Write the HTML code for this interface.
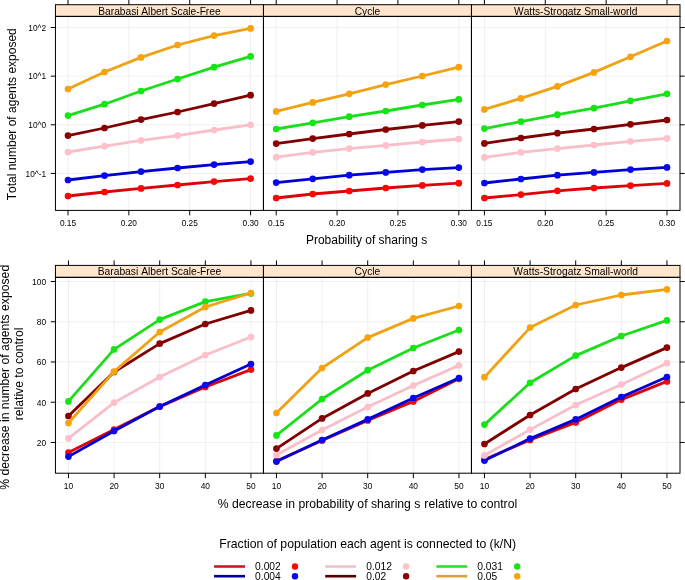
<!DOCTYPE html><html><head><meta charset="utf-8"><style>html,body{margin:0;padding:0;background:#fff;}svg{display:block;will-change:transform;}text{font-family:"Liberation Sans", sans-serif;font-kerning:none;font-feature-settings:"kern" 0;}</style></head><body>
<svg width="685" height="580" viewBox="0 0 685 580">
<rect x="0" y="0" width="685" height="580" fill="#fff"/>
<line x1="68.00" y1="16.40" x2="68.00" y2="210.40" stroke="#efefef" stroke-width="1"/>
<line x1="128.87" y1="16.40" x2="128.87" y2="210.40" stroke="#efefef" stroke-width="1"/>
<line x1="189.73" y1="16.40" x2="189.73" y2="210.40" stroke="#efefef" stroke-width="1"/>
<line x1="250.60" y1="16.40" x2="250.60" y2="210.40" stroke="#efefef" stroke-width="1"/>
<line x1="55.45" y1="27.53" x2="263.45" y2="27.53" stroke="#efefef" stroke-width="1"/>
<line x1="55.45" y1="76.17" x2="263.45" y2="76.17" stroke="#efefef" stroke-width="1"/>
<line x1="55.45" y1="124.81" x2="263.45" y2="124.81" stroke="#efefef" stroke-width="1"/>
<line x1="55.45" y1="173.45" x2="263.45" y2="173.45" stroke="#efefef" stroke-width="1"/>
<polyline points="68.00,196.00 104.52,192.00 141.04,188.40 177.56,185.00 214.08,181.60 250.60,178.60" fill="none" stroke="#dc0408" stroke-width="2.80" stroke-linejoin="round" stroke-linecap="round"/>
<circle cx="68.00" cy="196.00" r="3.35" fill="#fa0808"/>
<circle cx="104.52" cy="192.00" r="3.35" fill="#fa0808"/>
<circle cx="141.04" cy="188.40" r="3.35" fill="#fa0808"/>
<circle cx="177.56" cy="185.00" r="3.35" fill="#fa0808"/>
<circle cx="214.08" cy="181.60" r="3.35" fill="#fa0808"/>
<circle cx="250.60" cy="178.60" r="3.35" fill="#fa0808"/>
<polyline points="68.00,180.00 104.52,175.60 141.04,171.60 177.56,168.00 214.08,164.60 250.60,161.60" fill="none" stroke="#0000d2" stroke-width="2.80" stroke-linejoin="round" stroke-linecap="round"/>
<circle cx="68.00" cy="180.00" r="3.35" fill="#0808f0"/>
<circle cx="104.52" cy="175.60" r="3.35" fill="#0808f0"/>
<circle cx="141.04" cy="171.60" r="3.35" fill="#0808f0"/>
<circle cx="177.56" cy="168.00" r="3.35" fill="#0808f0"/>
<circle cx="214.08" cy="164.60" r="3.35" fill="#0808f0"/>
<circle cx="250.60" cy="161.60" r="3.35" fill="#0808f0"/>
<polyline points="68.00,152.00 104.52,146.20 141.04,140.40 177.56,135.60 214.08,130.00 250.60,124.80" fill="none" stroke="#f8bfc9" stroke-width="2.80" stroke-linejoin="round" stroke-linecap="round"/>
<circle cx="68.00" cy="152.00" r="3.35" fill="#ffc0cb"/>
<circle cx="104.52" cy="146.20" r="3.35" fill="#ffc0cb"/>
<circle cx="141.04" cy="140.40" r="3.35" fill="#ffc0cb"/>
<circle cx="177.56" cy="135.60" r="3.35" fill="#ffc0cb"/>
<circle cx="214.08" cy="130.00" r="3.35" fill="#ffc0cb"/>
<circle cx="250.60" cy="124.80" r="3.35" fill="#ffc0cb"/>
<polyline points="68.00,135.60 104.52,128.00 141.04,119.60 177.56,112.00 214.08,103.60 250.60,95.20" fill="none" stroke="#7e0000" stroke-width="2.80" stroke-linejoin="round" stroke-linecap="round"/>
<circle cx="68.00" cy="135.60" r="3.35" fill="#8b0000"/>
<circle cx="104.52" cy="128.00" r="3.35" fill="#8b0000"/>
<circle cx="141.04" cy="119.60" r="3.35" fill="#8b0000"/>
<circle cx="177.56" cy="112.00" r="3.35" fill="#8b0000"/>
<circle cx="214.08" cy="103.60" r="3.35" fill="#8b0000"/>
<circle cx="250.60" cy="95.20" r="3.35" fill="#8b0000"/>
<polyline points="68.00,115.60 104.52,104.20 141.04,91.00 177.56,79.00 214.08,67.20 250.60,56.40" fill="none" stroke="#1ade1a" stroke-width="2.80" stroke-linejoin="round" stroke-linecap="round"/>
<circle cx="68.00" cy="115.60" r="3.35" fill="#14e614"/>
<circle cx="104.52" cy="104.20" r="3.35" fill="#14e614"/>
<circle cx="141.04" cy="91.00" r="3.35" fill="#14e614"/>
<circle cx="177.56" cy="79.00" r="3.35" fill="#14e614"/>
<circle cx="214.08" cy="67.20" r="3.35" fill="#14e614"/>
<circle cx="250.60" cy="56.40" r="3.35" fill="#14e614"/>
<polyline points="68.00,89.00 104.52,72.00 141.04,57.40 177.56,45.00 214.08,35.60 250.60,28.40" fill="none" stroke="#efa216" stroke-width="2.80" stroke-linejoin="round" stroke-linecap="round"/>
<circle cx="68.00" cy="89.00" r="3.35" fill="#f8a30c"/>
<circle cx="104.52" cy="72.00" r="3.35" fill="#f8a30c"/>
<circle cx="141.04" cy="57.40" r="3.35" fill="#f8a30c"/>
<circle cx="177.56" cy="45.00" r="3.35" fill="#f8a30c"/>
<circle cx="214.08" cy="35.60" r="3.35" fill="#f8a30c"/>
<circle cx="250.60" cy="28.40" r="3.35" fill="#f8a30c"/>
<rect x="55.45" y="4.70" width="208.00" height="11.70" fill="#ffe5cc" stroke="#000" stroke-width="1"/>
<text x="159.45" y="14.70" font-size="10.20" text-anchor="middle" fill="#000">Barabasi Albert Scale-Free</text>
<rect x="55.45" y="16.40" width="208.00" height="194.00" fill="none" stroke="#000" stroke-width="1"/>
<line x1="68.00" y1="210.40" x2="68.00" y2="215.40" stroke="#000" stroke-width="1"/>
<line x1="68.00" y1="-0.30" x2="68.00" y2="4.70" stroke="#000" stroke-width="1"/>
<line x1="128.87" y1="210.40" x2="128.87" y2="215.40" stroke="#000" stroke-width="1"/>
<line x1="128.87" y1="-0.30" x2="128.87" y2="4.70" stroke="#000" stroke-width="1"/>
<line x1="189.73" y1="210.40" x2="189.73" y2="215.40" stroke="#000" stroke-width="1"/>
<line x1="189.73" y1="-0.30" x2="189.73" y2="4.70" stroke="#000" stroke-width="1"/>
<line x1="250.60" y1="210.40" x2="250.60" y2="215.40" stroke="#000" stroke-width="1"/>
<line x1="250.60" y1="-0.30" x2="250.60" y2="4.70" stroke="#000" stroke-width="1"/>
<line x1="276.20" y1="16.40" x2="276.20" y2="210.40" stroke="#efefef" stroke-width="1"/>
<line x1="337.07" y1="16.40" x2="337.07" y2="210.40" stroke="#efefef" stroke-width="1"/>
<line x1="397.93" y1="16.40" x2="397.93" y2="210.40" stroke="#efefef" stroke-width="1"/>
<line x1="458.80" y1="16.40" x2="458.80" y2="210.40" stroke="#efefef" stroke-width="1"/>
<line x1="263.45" y1="27.53" x2="471.45" y2="27.53" stroke="#efefef" stroke-width="1"/>
<line x1="263.45" y1="76.17" x2="471.45" y2="76.17" stroke="#efefef" stroke-width="1"/>
<line x1="263.45" y1="124.81" x2="471.45" y2="124.81" stroke="#efefef" stroke-width="1"/>
<line x1="263.45" y1="173.45" x2="471.45" y2="173.45" stroke="#efefef" stroke-width="1"/>
<polyline points="276.20,198.00 312.72,194.00 349.24,191.00 385.76,188.00 422.28,185.40 458.80,183.20" fill="none" stroke="#dc0408" stroke-width="2.80" stroke-linejoin="round" stroke-linecap="round"/>
<circle cx="276.20" cy="198.00" r="3.35" fill="#fa0808"/>
<circle cx="312.72" cy="194.00" r="3.35" fill="#fa0808"/>
<circle cx="349.24" cy="191.00" r="3.35" fill="#fa0808"/>
<circle cx="385.76" cy="188.00" r="3.35" fill="#fa0808"/>
<circle cx="422.28" cy="185.40" r="3.35" fill="#fa0808"/>
<circle cx="458.80" cy="183.20" r="3.35" fill="#fa0808"/>
<polyline points="276.20,182.60 312.72,178.80 349.24,175.20 385.76,172.40 422.28,169.60 458.80,167.60" fill="none" stroke="#0000d2" stroke-width="2.80" stroke-linejoin="round" stroke-linecap="round"/>
<circle cx="276.20" cy="182.60" r="3.35" fill="#0808f0"/>
<circle cx="312.72" cy="178.80" r="3.35" fill="#0808f0"/>
<circle cx="349.24" cy="175.20" r="3.35" fill="#0808f0"/>
<circle cx="385.76" cy="172.40" r="3.35" fill="#0808f0"/>
<circle cx="422.28" cy="169.60" r="3.35" fill="#0808f0"/>
<circle cx="458.80" cy="167.60" r="3.35" fill="#0808f0"/>
<polyline points="276.20,157.20 312.72,152.40 349.24,148.60 385.76,145.40 422.28,142.00 458.80,139.00" fill="none" stroke="#f8bfc9" stroke-width="2.80" stroke-linejoin="round" stroke-linecap="round"/>
<circle cx="276.20" cy="157.20" r="3.35" fill="#ffc0cb"/>
<circle cx="312.72" cy="152.40" r="3.35" fill="#ffc0cb"/>
<circle cx="349.24" cy="148.60" r="3.35" fill="#ffc0cb"/>
<circle cx="385.76" cy="145.40" r="3.35" fill="#ffc0cb"/>
<circle cx="422.28" cy="142.00" r="3.35" fill="#ffc0cb"/>
<circle cx="458.80" cy="139.00" r="3.35" fill="#ffc0cb"/>
<polyline points="276.20,143.60 312.72,138.60 349.24,134.00 385.76,129.50 422.28,125.40 458.80,121.60" fill="none" stroke="#7e0000" stroke-width="2.80" stroke-linejoin="round" stroke-linecap="round"/>
<circle cx="276.20" cy="143.60" r="3.35" fill="#8b0000"/>
<circle cx="312.72" cy="138.60" r="3.35" fill="#8b0000"/>
<circle cx="349.24" cy="134.00" r="3.35" fill="#8b0000"/>
<circle cx="385.76" cy="129.50" r="3.35" fill="#8b0000"/>
<circle cx="422.28" cy="125.40" r="3.35" fill="#8b0000"/>
<circle cx="458.80" cy="121.60" r="3.35" fill="#8b0000"/>
<polyline points="276.20,129.00 312.72,122.80 349.24,116.70 385.76,111.00 422.28,105.00 458.80,99.40" fill="none" stroke="#1ade1a" stroke-width="2.80" stroke-linejoin="round" stroke-linecap="round"/>
<circle cx="276.20" cy="129.00" r="3.35" fill="#14e614"/>
<circle cx="312.72" cy="122.80" r="3.35" fill="#14e614"/>
<circle cx="349.24" cy="116.70" r="3.35" fill="#14e614"/>
<circle cx="385.76" cy="111.00" r="3.35" fill="#14e614"/>
<circle cx="422.28" cy="105.00" r="3.35" fill="#14e614"/>
<circle cx="458.80" cy="99.40" r="3.35" fill="#14e614"/>
<polyline points="276.20,111.40 312.72,102.40 349.24,93.80 385.76,84.60 422.28,76.00 458.80,67.20" fill="none" stroke="#efa216" stroke-width="2.80" stroke-linejoin="round" stroke-linecap="round"/>
<circle cx="276.20" cy="111.40" r="3.35" fill="#f8a30c"/>
<circle cx="312.72" cy="102.40" r="3.35" fill="#f8a30c"/>
<circle cx="349.24" cy="93.80" r="3.35" fill="#f8a30c"/>
<circle cx="385.76" cy="84.60" r="3.35" fill="#f8a30c"/>
<circle cx="422.28" cy="76.00" r="3.35" fill="#f8a30c"/>
<circle cx="458.80" cy="67.20" r="3.35" fill="#f8a30c"/>
<rect x="263.45" y="4.70" width="208.00" height="11.70" fill="#ffe5cc" stroke="#000" stroke-width="1"/>
<text x="367.45" y="14.70" font-size="10.20" text-anchor="middle" fill="#000">Cycle</text>
<rect x="263.45" y="16.40" width="208.00" height="194.00" fill="none" stroke="#000" stroke-width="1"/>
<line x1="276.20" y1="210.40" x2="276.20" y2="215.40" stroke="#000" stroke-width="1"/>
<line x1="276.20" y1="-0.30" x2="276.20" y2="4.70" stroke="#000" stroke-width="1"/>
<line x1="337.07" y1="210.40" x2="337.07" y2="215.40" stroke="#000" stroke-width="1"/>
<line x1="337.07" y1="-0.30" x2="337.07" y2="4.70" stroke="#000" stroke-width="1"/>
<line x1="397.93" y1="210.40" x2="397.93" y2="215.40" stroke="#000" stroke-width="1"/>
<line x1="397.93" y1="-0.30" x2="397.93" y2="4.70" stroke="#000" stroke-width="1"/>
<line x1="458.80" y1="210.40" x2="458.80" y2="215.40" stroke="#000" stroke-width="1"/>
<line x1="458.80" y1="-0.30" x2="458.80" y2="4.70" stroke="#000" stroke-width="1"/>
<line x1="484.40" y1="16.40" x2="484.40" y2="210.40" stroke="#efefef" stroke-width="1"/>
<line x1="545.27" y1="16.40" x2="545.27" y2="210.40" stroke="#efefef" stroke-width="1"/>
<line x1="606.13" y1="16.40" x2="606.13" y2="210.40" stroke="#efefef" stroke-width="1"/>
<line x1="667.00" y1="16.40" x2="667.00" y2="210.40" stroke="#efefef" stroke-width="1"/>
<line x1="471.45" y1="27.53" x2="680.00" y2="27.53" stroke="#efefef" stroke-width="1"/>
<line x1="471.45" y1="76.17" x2="680.00" y2="76.17" stroke="#efefef" stroke-width="1"/>
<line x1="471.45" y1="124.81" x2="680.00" y2="124.81" stroke="#efefef" stroke-width="1"/>
<line x1="471.45" y1="173.45" x2="680.00" y2="173.45" stroke="#efefef" stroke-width="1"/>
<polyline points="484.40,198.00 520.92,194.60 557.44,190.80 593.96,188.00 630.48,185.60 667.00,183.40" fill="none" stroke="#dc0408" stroke-width="2.80" stroke-linejoin="round" stroke-linecap="round"/>
<circle cx="484.40" cy="198.00" r="3.35" fill="#fa0808"/>
<circle cx="520.92" cy="194.60" r="3.35" fill="#fa0808"/>
<circle cx="557.44" cy="190.80" r="3.35" fill="#fa0808"/>
<circle cx="593.96" cy="188.00" r="3.35" fill="#fa0808"/>
<circle cx="630.48" cy="185.60" r="3.35" fill="#fa0808"/>
<circle cx="667.00" cy="183.40" r="3.35" fill="#fa0808"/>
<polyline points="484.40,183.00 520.92,179.00 557.44,175.20 593.96,172.40 630.48,169.60 667.00,167.40" fill="none" stroke="#0000d2" stroke-width="2.80" stroke-linejoin="round" stroke-linecap="round"/>
<circle cx="484.40" cy="183.00" r="3.35" fill="#0808f0"/>
<circle cx="520.92" cy="179.00" r="3.35" fill="#0808f0"/>
<circle cx="557.44" cy="175.20" r="3.35" fill="#0808f0"/>
<circle cx="593.96" cy="172.40" r="3.35" fill="#0808f0"/>
<circle cx="630.48" cy="169.60" r="3.35" fill="#0808f0"/>
<circle cx="667.00" cy="167.40" r="3.35" fill="#0808f0"/>
<polyline points="484.40,157.40 520.92,152.40 557.44,148.60 593.96,145.00 630.48,141.40 667.00,138.40" fill="none" stroke="#f8bfc9" stroke-width="2.80" stroke-linejoin="round" stroke-linecap="round"/>
<circle cx="484.40" cy="157.40" r="3.35" fill="#ffc0cb"/>
<circle cx="520.92" cy="152.40" r="3.35" fill="#ffc0cb"/>
<circle cx="557.44" cy="148.60" r="3.35" fill="#ffc0cb"/>
<circle cx="593.96" cy="145.00" r="3.35" fill="#ffc0cb"/>
<circle cx="630.48" cy="141.40" r="3.35" fill="#ffc0cb"/>
<circle cx="667.00" cy="138.40" r="3.35" fill="#ffc0cb"/>
<polyline points="484.40,143.40 520.92,138.00 557.44,133.20 593.96,129.00 630.48,124.30 667.00,120.00" fill="none" stroke="#7e0000" stroke-width="2.80" stroke-linejoin="round" stroke-linecap="round"/>
<circle cx="484.40" cy="143.40" r="3.35" fill="#8b0000"/>
<circle cx="520.92" cy="138.00" r="3.35" fill="#8b0000"/>
<circle cx="557.44" cy="133.20" r="3.35" fill="#8b0000"/>
<circle cx="593.96" cy="129.00" r="3.35" fill="#8b0000"/>
<circle cx="630.48" cy="124.30" r="3.35" fill="#8b0000"/>
<circle cx="667.00" cy="120.00" r="3.35" fill="#8b0000"/>
<polyline points="484.40,128.60 520.92,121.60 557.44,114.70 593.96,108.20 630.48,100.80 667.00,93.80" fill="none" stroke="#1ade1a" stroke-width="2.80" stroke-linejoin="round" stroke-linecap="round"/>
<circle cx="484.40" cy="128.60" r="3.35" fill="#14e614"/>
<circle cx="520.92" cy="121.60" r="3.35" fill="#14e614"/>
<circle cx="557.44" cy="114.70" r="3.35" fill="#14e614"/>
<circle cx="593.96" cy="108.20" r="3.35" fill="#14e614"/>
<circle cx="630.48" cy="100.80" r="3.35" fill="#14e614"/>
<circle cx="667.00" cy="93.80" r="3.35" fill="#14e614"/>
<polyline points="484.40,109.40 520.92,98.40 557.44,86.40 593.96,72.40 630.48,56.80 667.00,41.00" fill="none" stroke="#efa216" stroke-width="2.80" stroke-linejoin="round" stroke-linecap="round"/>
<circle cx="484.40" cy="109.40" r="3.35" fill="#f8a30c"/>
<circle cx="520.92" cy="98.40" r="3.35" fill="#f8a30c"/>
<circle cx="557.44" cy="86.40" r="3.35" fill="#f8a30c"/>
<circle cx="593.96" cy="72.40" r="3.35" fill="#f8a30c"/>
<circle cx="630.48" cy="56.80" r="3.35" fill="#f8a30c"/>
<circle cx="667.00" cy="41.00" r="3.35" fill="#f8a30c"/>
<rect x="471.45" y="4.70" width="208.55" height="11.70" fill="#ffe5cc" stroke="#000" stroke-width="1"/>
<text x="575.73" y="14.70" font-size="10.20" text-anchor="middle" fill="#000">Watts-Strogatz Small-world</text>
<rect x="471.45" y="16.40" width="208.55" height="194.00" fill="none" stroke="#000" stroke-width="1"/>
<line x1="484.40" y1="210.40" x2="484.40" y2="215.40" stroke="#000" stroke-width="1"/>
<line x1="484.40" y1="-0.30" x2="484.40" y2="4.70" stroke="#000" stroke-width="1"/>
<line x1="545.27" y1="210.40" x2="545.27" y2="215.40" stroke="#000" stroke-width="1"/>
<line x1="545.27" y1="-0.30" x2="545.27" y2="4.70" stroke="#000" stroke-width="1"/>
<line x1="606.13" y1="210.40" x2="606.13" y2="215.40" stroke="#000" stroke-width="1"/>
<line x1="606.13" y1="-0.30" x2="606.13" y2="4.70" stroke="#000" stroke-width="1"/>
<line x1="667.00" y1="210.40" x2="667.00" y2="215.40" stroke="#000" stroke-width="1"/>
<line x1="667.00" y1="-0.30" x2="667.00" y2="4.70" stroke="#000" stroke-width="1"/>
<line x1="50.75" y1="27.53" x2="55.45" y2="27.53" stroke="#000" stroke-width="1"/>
<line x1="680.00" y1="27.53" x2="684.70" y2="27.53" stroke="#000" stroke-width="1"/>
<line x1="50.75" y1="76.17" x2="55.45" y2="76.17" stroke="#000" stroke-width="1"/>
<line x1="680.00" y1="76.17" x2="684.70" y2="76.17" stroke="#000" stroke-width="1"/>
<line x1="50.75" y1="124.81" x2="55.45" y2="124.81" stroke="#000" stroke-width="1"/>
<line x1="680.00" y1="124.81" x2="684.70" y2="124.81" stroke="#000" stroke-width="1"/>
<line x1="50.75" y1="173.45" x2="55.45" y2="173.45" stroke="#000" stroke-width="1"/>
<line x1="680.00" y1="173.45" x2="684.70" y2="173.45" stroke="#000" stroke-width="1"/>
<line x1="68.45" y1="277.35" x2="68.45" y2="473.20" stroke="#efefef" stroke-width="1"/>
<line x1="114.08" y1="277.35" x2="114.08" y2="473.20" stroke="#efefef" stroke-width="1"/>
<line x1="159.70" y1="277.35" x2="159.70" y2="473.20" stroke="#efefef" stroke-width="1"/>
<line x1="205.32" y1="277.35" x2="205.32" y2="473.20" stroke="#efefef" stroke-width="1"/>
<line x1="250.95" y1="277.35" x2="250.95" y2="473.20" stroke="#efefef" stroke-width="1"/>
<line x1="55.45" y1="281.50" x2="263.45" y2="281.50" stroke="#efefef" stroke-width="1"/>
<line x1="55.45" y1="321.74" x2="263.45" y2="321.74" stroke="#efefef" stroke-width="1"/>
<line x1="55.45" y1="361.98" x2="263.45" y2="361.98" stroke="#efefef" stroke-width="1"/>
<line x1="55.45" y1="402.22" x2="263.45" y2="402.22" stroke="#efefef" stroke-width="1"/>
<line x1="55.45" y1="442.46" x2="263.45" y2="442.46" stroke="#efefef" stroke-width="1"/>
<polyline points="68.45,452.60 114.08,429.60 159.70,406.60 205.32,387.00 250.95,369.60" fill="none" stroke="#dc0408" stroke-width="2.80" stroke-linejoin="round" stroke-linecap="round"/>
<circle cx="68.45" cy="452.60" r="3.35" fill="#fa0808"/>
<circle cx="114.08" cy="429.60" r="3.35" fill="#fa0808"/>
<circle cx="159.70" cy="406.60" r="3.35" fill="#fa0808"/>
<circle cx="205.32" cy="387.00" r="3.35" fill="#fa0808"/>
<circle cx="250.95" cy="369.60" r="3.35" fill="#fa0808"/>
<polyline points="68.45,456.60 114.08,431.00 159.70,406.60 205.32,385.00 250.95,364.00" fill="none" stroke="#0000d2" stroke-width="2.80" stroke-linejoin="round" stroke-linecap="round"/>
<circle cx="68.45" cy="456.60" r="3.35" fill="#0808f0"/>
<circle cx="114.08" cy="431.00" r="3.35" fill="#0808f0"/>
<circle cx="159.70" cy="406.60" r="3.35" fill="#0808f0"/>
<circle cx="205.32" cy="385.00" r="3.35" fill="#0808f0"/>
<circle cx="250.95" cy="364.00" r="3.35" fill="#0808f0"/>
<polyline points="68.45,438.40 114.08,402.60 159.70,377.00 205.32,355.00 250.95,337.00" fill="none" stroke="#f8bfc9" stroke-width="2.80" stroke-linejoin="round" stroke-linecap="round"/>
<circle cx="68.45" cy="438.40" r="3.35" fill="#ffc0cb"/>
<circle cx="114.08" cy="402.60" r="3.35" fill="#ffc0cb"/>
<circle cx="159.70" cy="377.00" r="3.35" fill="#ffc0cb"/>
<circle cx="205.32" cy="355.00" r="3.35" fill="#ffc0cb"/>
<circle cx="250.95" cy="337.00" r="3.35" fill="#ffc0cb"/>
<polyline points="68.45,416.00 114.08,372.00 159.70,343.60 205.32,324.00 250.95,310.40" fill="none" stroke="#7e0000" stroke-width="2.80" stroke-linejoin="round" stroke-linecap="round"/>
<circle cx="68.45" cy="416.00" r="3.35" fill="#8b0000"/>
<circle cx="114.08" cy="372.00" r="3.35" fill="#8b0000"/>
<circle cx="159.70" cy="343.60" r="3.35" fill="#8b0000"/>
<circle cx="205.32" cy="324.00" r="3.35" fill="#8b0000"/>
<circle cx="250.95" cy="310.40" r="3.35" fill="#8b0000"/>
<polyline points="68.45,401.40 114.08,349.40 159.70,319.60 205.32,301.60 250.95,293.40" fill="none" stroke="#1ade1a" stroke-width="2.80" stroke-linejoin="round" stroke-linecap="round"/>
<circle cx="68.45" cy="401.40" r="3.35" fill="#14e614"/>
<circle cx="114.08" cy="349.40" r="3.35" fill="#14e614"/>
<circle cx="159.70" cy="319.60" r="3.35" fill="#14e614"/>
<circle cx="205.32" cy="301.60" r="3.35" fill="#14e614"/>
<circle cx="250.95" cy="293.40" r="3.35" fill="#14e614"/>
<polyline points="68.45,423.00 114.08,371.60 159.70,332.00 205.32,307.00 250.95,293.00" fill="none" stroke="#efa216" stroke-width="2.80" stroke-linejoin="round" stroke-linecap="round"/>
<circle cx="68.45" cy="423.00" r="3.35" fill="#f8a30c"/>
<circle cx="114.08" cy="371.60" r="3.35" fill="#f8a30c"/>
<circle cx="159.70" cy="332.00" r="3.35" fill="#f8a30c"/>
<circle cx="205.32" cy="307.00" r="3.35" fill="#f8a30c"/>
<circle cx="250.95" cy="293.00" r="3.35" fill="#f8a30c"/>
<rect x="55.45" y="265.40" width="208.00" height="11.95" fill="#ffe5cc" stroke="#000" stroke-width="1"/>
<text x="159.45" y="274.95" font-size="10.30" text-anchor="middle" fill="#000">Barabasi Albert Scale-Free</text>
<rect x="55.45" y="277.35" width="208.00" height="195.85" fill="none" stroke="#000" stroke-width="1"/>
<line x1="68.45" y1="473.20" x2="68.45" y2="478.20" stroke="#000" stroke-width="1"/>
<line x1="68.45" y1="260.40" x2="68.45" y2="265.40" stroke="#000" stroke-width="1"/>
<line x1="114.08" y1="473.20" x2="114.08" y2="478.20" stroke="#000" stroke-width="1"/>
<line x1="114.08" y1="260.40" x2="114.08" y2="265.40" stroke="#000" stroke-width="1"/>
<line x1="159.70" y1="473.20" x2="159.70" y2="478.20" stroke="#000" stroke-width="1"/>
<line x1="159.70" y1="260.40" x2="159.70" y2="265.40" stroke="#000" stroke-width="1"/>
<line x1="205.32" y1="473.20" x2="205.32" y2="478.20" stroke="#000" stroke-width="1"/>
<line x1="205.32" y1="260.40" x2="205.32" y2="265.40" stroke="#000" stroke-width="1"/>
<line x1="250.95" y1="473.20" x2="250.95" y2="478.20" stroke="#000" stroke-width="1"/>
<line x1="250.95" y1="260.40" x2="250.95" y2="265.40" stroke="#000" stroke-width="1"/>
<line x1="276.45" y1="277.35" x2="276.45" y2="473.20" stroke="#efefef" stroke-width="1"/>
<line x1="322.07" y1="277.35" x2="322.07" y2="473.20" stroke="#efefef" stroke-width="1"/>
<line x1="367.70" y1="277.35" x2="367.70" y2="473.20" stroke="#efefef" stroke-width="1"/>
<line x1="413.32" y1="277.35" x2="413.32" y2="473.20" stroke="#efefef" stroke-width="1"/>
<line x1="458.95" y1="277.35" x2="458.95" y2="473.20" stroke="#efefef" stroke-width="1"/>
<line x1="263.45" y1="281.50" x2="471.45" y2="281.50" stroke="#efefef" stroke-width="1"/>
<line x1="263.45" y1="321.74" x2="471.45" y2="321.74" stroke="#efefef" stroke-width="1"/>
<line x1="263.45" y1="361.98" x2="471.45" y2="361.98" stroke="#efefef" stroke-width="1"/>
<line x1="263.45" y1="402.22" x2="471.45" y2="402.22" stroke="#efefef" stroke-width="1"/>
<line x1="263.45" y1="442.46" x2="471.45" y2="442.46" stroke="#efefef" stroke-width="1"/>
<polyline points="276.45,461.00 322.07,440.50 367.70,420.50 413.32,401.40 458.95,378.80" fill="none" stroke="#dc0408" stroke-width="2.80" stroke-linejoin="round" stroke-linecap="round"/>
<circle cx="276.45" cy="461.00" r="3.35" fill="#fa0808"/>
<circle cx="322.07" cy="440.50" r="3.35" fill="#fa0808"/>
<circle cx="367.70" cy="420.50" r="3.35" fill="#fa0808"/>
<circle cx="413.32" cy="401.40" r="3.35" fill="#fa0808"/>
<circle cx="458.95" cy="378.80" r="3.35" fill="#fa0808"/>
<polyline points="276.45,461.60 322.07,440.00 367.70,419.40 413.32,398.00 458.95,378.00" fill="none" stroke="#0000d2" stroke-width="2.80" stroke-linejoin="round" stroke-linecap="round"/>
<circle cx="276.45" cy="461.60" r="3.35" fill="#0808f0"/>
<circle cx="322.07" cy="440.00" r="3.35" fill="#0808f0"/>
<circle cx="367.70" cy="419.40" r="3.35" fill="#0808f0"/>
<circle cx="413.32" cy="398.00" r="3.35" fill="#0808f0"/>
<circle cx="458.95" cy="378.00" r="3.35" fill="#0808f0"/>
<polyline points="276.45,455.00 322.07,430.00 367.70,407.00 413.32,385.60 458.95,365.40" fill="none" stroke="#f8bfc9" stroke-width="2.80" stroke-linejoin="round" stroke-linecap="round"/>
<circle cx="276.45" cy="455.00" r="3.35" fill="#ffc0cb"/>
<circle cx="322.07" cy="430.00" r="3.35" fill="#ffc0cb"/>
<circle cx="367.70" cy="407.00" r="3.35" fill="#ffc0cb"/>
<circle cx="413.32" cy="385.60" r="3.35" fill="#ffc0cb"/>
<circle cx="458.95" cy="365.40" r="3.35" fill="#ffc0cb"/>
<polyline points="276.45,448.60 322.07,418.40 367.70,393.40 413.32,371.00 458.95,351.60" fill="none" stroke="#7e0000" stroke-width="2.80" stroke-linejoin="round" stroke-linecap="round"/>
<circle cx="276.45" cy="448.60" r="3.35" fill="#8b0000"/>
<circle cx="322.07" cy="418.40" r="3.35" fill="#8b0000"/>
<circle cx="367.70" cy="393.40" r="3.35" fill="#8b0000"/>
<circle cx="413.32" cy="371.00" r="3.35" fill="#8b0000"/>
<circle cx="458.95" cy="351.60" r="3.35" fill="#8b0000"/>
<polyline points="276.45,435.40 322.07,399.00 367.70,370.20 413.32,348.00 458.95,330.00" fill="none" stroke="#1ade1a" stroke-width="2.80" stroke-linejoin="round" stroke-linecap="round"/>
<circle cx="276.45" cy="435.40" r="3.35" fill="#14e614"/>
<circle cx="322.07" cy="399.00" r="3.35" fill="#14e614"/>
<circle cx="367.70" cy="370.20" r="3.35" fill="#14e614"/>
<circle cx="413.32" cy="348.00" r="3.35" fill="#14e614"/>
<circle cx="458.95" cy="330.00" r="3.35" fill="#14e614"/>
<polyline points="276.45,413.00 322.07,368.00 367.70,337.60 413.32,318.40 458.95,306.00" fill="none" stroke="#efa216" stroke-width="2.80" stroke-linejoin="round" stroke-linecap="round"/>
<circle cx="276.45" cy="413.00" r="3.35" fill="#f8a30c"/>
<circle cx="322.07" cy="368.00" r="3.35" fill="#f8a30c"/>
<circle cx="367.70" cy="337.60" r="3.35" fill="#f8a30c"/>
<circle cx="413.32" cy="318.40" r="3.35" fill="#f8a30c"/>
<circle cx="458.95" cy="306.00" r="3.35" fill="#f8a30c"/>
<rect x="263.45" y="265.40" width="208.00" height="11.95" fill="#ffe5cc" stroke="#000" stroke-width="1"/>
<text x="367.45" y="274.95" font-size="10.30" text-anchor="middle" fill="#000">Cycle</text>
<rect x="263.45" y="277.35" width="208.00" height="195.85" fill="none" stroke="#000" stroke-width="1"/>
<line x1="276.45" y1="473.20" x2="276.45" y2="478.20" stroke="#000" stroke-width="1"/>
<line x1="276.45" y1="260.40" x2="276.45" y2="265.40" stroke="#000" stroke-width="1"/>
<line x1="322.07" y1="473.20" x2="322.07" y2="478.20" stroke="#000" stroke-width="1"/>
<line x1="322.07" y1="260.40" x2="322.07" y2="265.40" stroke="#000" stroke-width="1"/>
<line x1="367.70" y1="473.20" x2="367.70" y2="478.20" stroke="#000" stroke-width="1"/>
<line x1="367.70" y1="260.40" x2="367.70" y2="265.40" stroke="#000" stroke-width="1"/>
<line x1="413.32" y1="473.20" x2="413.32" y2="478.20" stroke="#000" stroke-width="1"/>
<line x1="413.32" y1="260.40" x2="413.32" y2="265.40" stroke="#000" stroke-width="1"/>
<line x1="458.95" y1="473.20" x2="458.95" y2="478.20" stroke="#000" stroke-width="1"/>
<line x1="458.95" y1="260.40" x2="458.95" y2="265.40" stroke="#000" stroke-width="1"/>
<line x1="484.45" y1="277.35" x2="484.45" y2="473.20" stroke="#efefef" stroke-width="1"/>
<line x1="530.08" y1="277.35" x2="530.08" y2="473.20" stroke="#efefef" stroke-width="1"/>
<line x1="575.70" y1="277.35" x2="575.70" y2="473.20" stroke="#efefef" stroke-width="1"/>
<line x1="621.33" y1="277.35" x2="621.33" y2="473.20" stroke="#efefef" stroke-width="1"/>
<line x1="666.95" y1="277.35" x2="666.95" y2="473.20" stroke="#efefef" stroke-width="1"/>
<line x1="471.45" y1="281.50" x2="680.00" y2="281.50" stroke="#efefef" stroke-width="1"/>
<line x1="471.45" y1="321.74" x2="680.00" y2="321.74" stroke="#efefef" stroke-width="1"/>
<line x1="471.45" y1="361.98" x2="680.00" y2="361.98" stroke="#efefef" stroke-width="1"/>
<line x1="471.45" y1="402.22" x2="680.00" y2="402.22" stroke="#efefef" stroke-width="1"/>
<line x1="471.45" y1="442.46" x2="680.00" y2="442.46" stroke="#efefef" stroke-width="1"/>
<polyline points="484.45,459.50 530.08,440.00 575.70,422.40 621.33,399.60 666.95,381.40" fill="none" stroke="#dc0408" stroke-width="2.80" stroke-linejoin="round" stroke-linecap="round"/>
<circle cx="484.45" cy="459.50" r="3.35" fill="#fa0808"/>
<circle cx="530.08" cy="440.00" r="3.35" fill="#fa0808"/>
<circle cx="575.70" cy="422.40" r="3.35" fill="#fa0808"/>
<circle cx="621.33" cy="399.60" r="3.35" fill="#fa0808"/>
<circle cx="666.95" cy="381.40" r="3.35" fill="#fa0808"/>
<polyline points="484.45,460.60 530.08,438.60 575.70,419.40 621.33,397.00 666.95,377.00" fill="none" stroke="#0000d2" stroke-width="2.80" stroke-linejoin="round" stroke-linecap="round"/>
<circle cx="484.45" cy="460.60" r="3.35" fill="#0808f0"/>
<circle cx="530.08" cy="438.60" r="3.35" fill="#0808f0"/>
<circle cx="575.70" cy="419.40" r="3.35" fill="#0808f0"/>
<circle cx="621.33" cy="397.00" r="3.35" fill="#0808f0"/>
<circle cx="666.95" cy="377.00" r="3.35" fill="#0808f0"/>
<polyline points="484.45,455.40 530.08,429.60 575.70,405.00 621.33,384.50 666.95,363.20" fill="none" stroke="#f8bfc9" stroke-width="2.80" stroke-linejoin="round" stroke-linecap="round"/>
<circle cx="484.45" cy="455.40" r="3.35" fill="#ffc0cb"/>
<circle cx="530.08" cy="429.60" r="3.35" fill="#ffc0cb"/>
<circle cx="575.70" cy="405.00" r="3.35" fill="#ffc0cb"/>
<circle cx="621.33" cy="384.50" r="3.35" fill="#ffc0cb"/>
<circle cx="666.95" cy="363.20" r="3.35" fill="#ffc0cb"/>
<polyline points="484.45,444.00 530.08,415.00 575.70,389.00 621.33,367.60 666.95,347.60" fill="none" stroke="#7e0000" stroke-width="2.80" stroke-linejoin="round" stroke-linecap="round"/>
<circle cx="484.45" cy="444.00" r="3.35" fill="#8b0000"/>
<circle cx="530.08" cy="415.00" r="3.35" fill="#8b0000"/>
<circle cx="575.70" cy="389.00" r="3.35" fill="#8b0000"/>
<circle cx="621.33" cy="367.60" r="3.35" fill="#8b0000"/>
<circle cx="666.95" cy="347.60" r="3.35" fill="#8b0000"/>
<polyline points="484.45,424.60 530.08,382.80 575.70,355.60 621.33,336.00 666.95,320.40" fill="none" stroke="#1ade1a" stroke-width="2.80" stroke-linejoin="round" stroke-linecap="round"/>
<circle cx="484.45" cy="424.60" r="3.35" fill="#14e614"/>
<circle cx="530.08" cy="382.80" r="3.35" fill="#14e614"/>
<circle cx="575.70" cy="355.60" r="3.35" fill="#14e614"/>
<circle cx="621.33" cy="336.00" r="3.35" fill="#14e614"/>
<circle cx="666.95" cy="320.40" r="3.35" fill="#14e614"/>
<polyline points="484.45,377.20 530.08,327.60 575.70,305.00 621.33,295.00 666.95,289.40" fill="none" stroke="#efa216" stroke-width="2.80" stroke-linejoin="round" stroke-linecap="round"/>
<circle cx="484.45" cy="377.20" r="3.35" fill="#f8a30c"/>
<circle cx="530.08" cy="327.60" r="3.35" fill="#f8a30c"/>
<circle cx="575.70" cy="305.00" r="3.35" fill="#f8a30c"/>
<circle cx="621.33" cy="295.00" r="3.35" fill="#f8a30c"/>
<circle cx="666.95" cy="289.40" r="3.35" fill="#f8a30c"/>
<rect x="471.45" y="265.40" width="208.55" height="11.95" fill="#ffe5cc" stroke="#000" stroke-width="1"/>
<text x="575.73" y="274.95" font-size="10.30" text-anchor="middle" fill="#000">Watts-Strogatz Small-world</text>
<rect x="471.45" y="277.35" width="208.55" height="195.85" fill="none" stroke="#000" stroke-width="1"/>
<line x1="484.45" y1="473.20" x2="484.45" y2="478.20" stroke="#000" stroke-width="1"/>
<line x1="484.45" y1="260.40" x2="484.45" y2="265.40" stroke="#000" stroke-width="1"/>
<line x1="530.08" y1="473.20" x2="530.08" y2="478.20" stroke="#000" stroke-width="1"/>
<line x1="530.08" y1="260.40" x2="530.08" y2="265.40" stroke="#000" stroke-width="1"/>
<line x1="575.70" y1="473.20" x2="575.70" y2="478.20" stroke="#000" stroke-width="1"/>
<line x1="575.70" y1="260.40" x2="575.70" y2="265.40" stroke="#000" stroke-width="1"/>
<line x1="621.33" y1="473.20" x2="621.33" y2="478.20" stroke="#000" stroke-width="1"/>
<line x1="621.33" y1="260.40" x2="621.33" y2="265.40" stroke="#000" stroke-width="1"/>
<line x1="666.95" y1="473.20" x2="666.95" y2="478.20" stroke="#000" stroke-width="1"/>
<line x1="666.95" y1="260.40" x2="666.95" y2="265.40" stroke="#000" stroke-width="1"/>
<line x1="50.75" y1="281.50" x2="55.45" y2="281.50" stroke="#000" stroke-width="1"/>
<line x1="680.00" y1="281.50" x2="684.70" y2="281.50" stroke="#000" stroke-width="1"/>
<line x1="50.75" y1="321.74" x2="55.45" y2="321.74" stroke="#000" stroke-width="1"/>
<line x1="680.00" y1="321.74" x2="684.70" y2="321.74" stroke="#000" stroke-width="1"/>
<line x1="50.75" y1="361.98" x2="55.45" y2="361.98" stroke="#000" stroke-width="1"/>
<line x1="680.00" y1="361.98" x2="684.70" y2="361.98" stroke="#000" stroke-width="1"/>
<line x1="50.75" y1="402.22" x2="55.45" y2="402.22" stroke="#000" stroke-width="1"/>
<line x1="680.00" y1="402.22" x2="684.70" y2="402.22" stroke="#000" stroke-width="1"/>
<line x1="50.75" y1="442.46" x2="55.45" y2="442.46" stroke="#000" stroke-width="1"/>
<line x1="680.00" y1="442.46" x2="684.70" y2="442.46" stroke="#000" stroke-width="1"/>
<text x="68.00" y="225.70" font-size="8.30" text-anchor="middle">0.15</text>
<text x="128.87" y="225.70" font-size="8.30" text-anchor="middle">0.20</text>
<text x="189.73" y="225.70" font-size="8.30" text-anchor="middle">0.25</text>
<text x="250.60" y="225.70" font-size="8.30" text-anchor="middle">0.30</text>
<text x="68.45" y="489.00" font-size="8.42" text-anchor="middle">10</text>
<text x="114.08" y="489.00" font-size="8.42" text-anchor="middle">20</text>
<text x="159.70" y="489.00" font-size="8.42" text-anchor="middle">30</text>
<text x="205.32" y="489.00" font-size="8.42" text-anchor="middle">40</text>
<text x="250.95" y="489.00" font-size="8.42" text-anchor="middle">50</text>
<text x="276.20" y="225.70" font-size="8.30" text-anchor="middle">0.15</text>
<text x="337.07" y="225.70" font-size="8.30" text-anchor="middle">0.20</text>
<text x="397.93" y="225.70" font-size="8.30" text-anchor="middle">0.25</text>
<text x="458.80" y="225.70" font-size="8.30" text-anchor="middle">0.30</text>
<text x="276.45" y="489.00" font-size="8.42" text-anchor="middle">10</text>
<text x="322.07" y="489.00" font-size="8.42" text-anchor="middle">20</text>
<text x="367.70" y="489.00" font-size="8.42" text-anchor="middle">30</text>
<text x="413.32" y="489.00" font-size="8.42" text-anchor="middle">40</text>
<text x="458.95" y="489.00" font-size="8.42" text-anchor="middle">50</text>
<text x="484.40" y="225.70" font-size="8.30" text-anchor="middle">0.15</text>
<text x="545.27" y="225.70" font-size="8.30" text-anchor="middle">0.20</text>
<text x="606.13" y="225.70" font-size="8.30" text-anchor="middle">0.25</text>
<text x="667.00" y="225.70" font-size="8.30" text-anchor="middle">0.30</text>
<text x="484.45" y="489.00" font-size="8.42" text-anchor="middle">10</text>
<text x="530.08" y="489.00" font-size="8.42" text-anchor="middle">20</text>
<text x="575.70" y="489.00" font-size="8.42" text-anchor="middle">30</text>
<text x="621.33" y="489.00" font-size="8.42" text-anchor="middle">40</text>
<text x="666.95" y="489.00" font-size="8.42" text-anchor="middle">50</text>
<text x="46.1" y="30.83" font-size="8.30" text-anchor="end">10^2</text>
<text x="46.1" y="79.47" font-size="8.30" text-anchor="end">10^1</text>
<text x="46.1" y="128.11" font-size="8.30" text-anchor="end">10^0</text>
<text x="46.1" y="176.75" font-size="8.30" text-anchor="end">10^-1</text>
<text x="46.1" y="284.80" font-size="8.42" text-anchor="end">100</text>
<text x="46.1" y="325.04" font-size="8.42" text-anchor="end">80</text>
<text x="46.1" y="365.28" font-size="8.42" text-anchor="end">60</text>
<text x="46.1" y="405.52" font-size="8.42" text-anchor="end">40</text>
<text x="46.1" y="445.76" font-size="8.42" text-anchor="end">20</text>
<text x="366.6" y="243.6" font-size="12" text-anchor="middle">Probability of sharing s</text>
<text transform="translate(16.3,114.3) rotate(-90)" font-size="12" text-anchor="middle">Total number of agents exposed</text>
<text transform="translate(9.1,377.3) rotate(-90)" font-size="12.2" text-anchor="middle">% decrease in number of agents exposed</text>
<text transform="translate(22.7,373.9) rotate(-90)" font-size="12.2" text-anchor="middle">relative to control</text>
<text x="367.5" y="507.5" font-size="12.2" text-anchor="middle">% decrease in probability of sharing s<tspan dx="0.6"> </tspan>relative to control</text>
<text x="367.65" y="547.5" font-size="12.22" text-anchor="middle">Fraction of population each agent is connected to (k/N)</text>
<line x1="214.10" y1="566.50" x2="245.00" y2="566.50" stroke="#c81a1e" stroke-width="2.6"/>
<text x="255.10" y="570.40" font-size="10.25">0.002</text>
<circle cx="295.00" cy="566.50" r="3.2" fill="#fa0808"/>
<line x1="214.10" y1="576.20" x2="245.00" y2="576.20" stroke="#000096" stroke-width="2.6"/>
<text x="255.10" y="580.10" font-size="10.25">0.004</text>
<circle cx="295.00" cy="576.20" r="3.2" fill="#0808f0"/>
<line x1="325.20" y1="566.50" x2="356.10" y2="566.50" stroke="#eec3cb" stroke-width="2.6"/>
<text x="366.20" y="570.40" font-size="10.25">0.012</text>
<circle cx="406.10" cy="566.50" r="3.2" fill="#ffc0cb"/>
<line x1="325.20" y1="576.20" x2="356.10" y2="576.20" stroke="#580000" stroke-width="2.6"/>
<text x="366.20" y="580.10" font-size="10.25">0.02</text>
<circle cx="406.10" cy="576.20" r="3.2" fill="#8b0000"/>
<line x1="436.30" y1="566.50" x2="467.20" y2="566.50" stroke="#2ee02e" stroke-width="2.6"/>
<text x="477.30" y="570.40" font-size="10.25">0.031</text>
<circle cx="517.20" cy="566.50" r="3.2" fill="#14e614"/>
<line x1="436.30" y1="576.20" x2="467.20" y2="576.20" stroke="#daa23a" stroke-width="2.6"/>
<text x="477.30" y="580.10" font-size="10.25">0.05</text>
<circle cx="517.20" cy="576.20" r="3.2" fill="#f8a30c"/>
</svg></body></html>
